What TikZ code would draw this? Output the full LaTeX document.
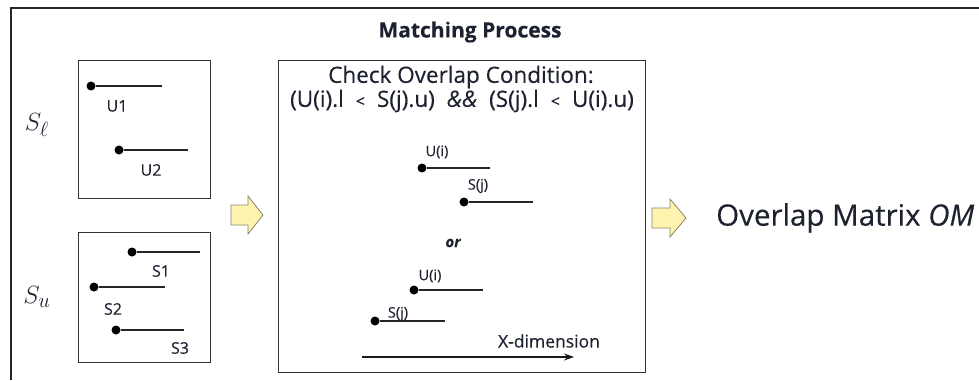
\documentclass[tikz,border=0pt]{standalone}
\usepackage{fontspec}
\setmainfont{Open Sans}[FakeBold=0.35]
\newfontfamily\titlefont{Open Sans}[FakeBold=0.2]
\usetikzlibrary{arrows.meta}
\definecolor{txt}{HTML}{1E2230}
\definecolor{arrfill}{HTML}{FFF3B0}
\definecolor{arrdraw}{HTML}{85856A}
\newcommand{\wsp}{\hspace{12pt}}
\tikzset{
  box/.style={draw=black!80, line width=1pt},
  seg/.style={line width=1.2pt, black!85},
  dotn/.style={circle, fill=black, inner sep=0pt, minimum size=9pt},
  lbl/.style={text=txt, font=\fontsize{16}{18}\selectfont, inner sep=0pt},
  slbl/.style={text=txt, font=\fontsize{14.5}{16}\selectfont, inner sep=0pt},
  blockarrow/.style={fill=arrfill, draw=arrdraw, line width=0.8pt, line join=miter},
}
\begin{document}
\begin{tikzpicture}[x=1pt,y=-1pt]
\useasboundingbox (0,0) rectangle (979,380);
% outer frame (top and left only)
\draw[line width=1.8pt, black!85] (11,380) -- (11,8) -- (979,8);
% title
\node[font=\titlefont\bfseries\fontsize{21}{24}\selectfont, text=txt, inner sep=0pt] (title) at (470,32) {Matching Process};
% left boxes
\draw[box] (78,60) rectangle (210,198);
\draw[box] (78,232) rectangle (210,362);
\node[inner sep=0pt, text=txt, font=\fontsize{29}{30}\selectfont] (Sl) at (37,125) {$S_{\ell}$};
\node[inner sep=0pt, text=txt, font=\fontsize{29}{30}\selectfont] (Su) at (37,297) {$S_{u}$};
% U1
\node[dotn] (u1) at (91,86) {}; \coordinate (u1e) at (162,86);
\draw[seg] (u1) -- (u1e);
\node[lbl] (u1l) at (117,106) {U1};
% U2
\node[dotn] (u2) at (119,150) {}; \coordinate (u2e) at (188,150);
\draw[seg] (u2) -- (u2e);
\node[lbl] (u2l) at (151,170) {U2};
% S1
\node[dotn] (s1) at (132,252) {}; \coordinate (s1e) at (200,252);
\draw[seg] (s1) -- (s1e);
\node[lbl] (s1l) at (161,271) {S1};
% S2
\node[dotn] (s2) at (94,287) {}; \coordinate (s2e) at (165,287);
\draw[seg] (s2) -- (s2e);
\node[lbl] (s2l) at (113,309) {S2};
% S3
\node[dotn] (s3) at (116,330) {}; \coordinate (s3e) at (184,330);
\draw[seg] (s3) -- (s3e);
\node[lbl] (s3l) at (180,348) {S3};
% arrow 1
\draw[blockarrow] (231,205) -- (248,205) -- (248,196) -- (263,215) -- (248,234) -- (248,225) -- (231,225) -- cycle;
% middle box
\draw[box] (278,60) rectangle (645,372);
\node[text=txt, font=\fontsize{22.5}{24}\selectfont, inner sep=0pt] (cond1) at (461,77) {Check Overlap Condition:};
\node[text=txt, font=\fontsize{22.5}{24}\selectfont, inner sep=0pt] (cond2) at (462,101)
  {(U(i).l\wsp{\fontsize{16}{18}\selectfont <}\wsp S(j).u)\wsp\textit{\&\&}\wsp(S(j).l\wsp{\fontsize{16}{18}\selectfont <}\wsp U(i).u)};
% upper pair
\node[dotn] (ua) at (422,168) {}; \coordinate (uae) at (490,168);
\draw[seg] (ua) -- (uae);
\node[slbl] (ual) at (437,152) {U(i)};
\node[dotn] (sa) at (464,202) {}; \coordinate (sae) at (533,202);
\draw[seg] (sa) -- (sae);
\node[slbl] (sal) at (478,186) {S(j)};
\node[text=txt, font=\bfseries\itshape\fontsize{15}{17}\selectfont, inner sep=0pt] (or) at (453,243) {or};
% lower pair
\node[dotn] (ub) at (414,290) {}; \coordinate (ube) at (483,290);
\draw[seg] (ub) -- (ube);
\node[slbl] (ubl) at (430,276) {U(i)};
\node[dotn] (sb) at (375,321) {}; \coordinate (sbe) at (445,321);
\draw[seg] (sb) -- (sbe);
\node[slbl] (sbl) at (398,314) {S(j)};
% x-dimension
\coordinate (xs) at (362,357); \coordinate (xe) at (574,357);
\draw[line width=1.2pt, black!90, -{Stealth[length=10pt,width=7pt]}] (xs) -- (xe);
\node[text=txt, font=\fontsize{17.5}{19}\selectfont, inner sep=0pt] (xl) at (549,341) {X-dimension};
% arrow 2
\draw[blockarrow] (652,208) -- (670,208) -- (670,199) -- (686,218) -- (670,237) -- (670,228) -- (652,228) -- cycle;
\node[text=txt, font=\fontsize{29.5}{31}\selectfont, anchor=west, inner sep=0pt] (om) at (716,218) {Overlap Matrix \textit{OM}};
\end{tikzpicture}
\end{document}
